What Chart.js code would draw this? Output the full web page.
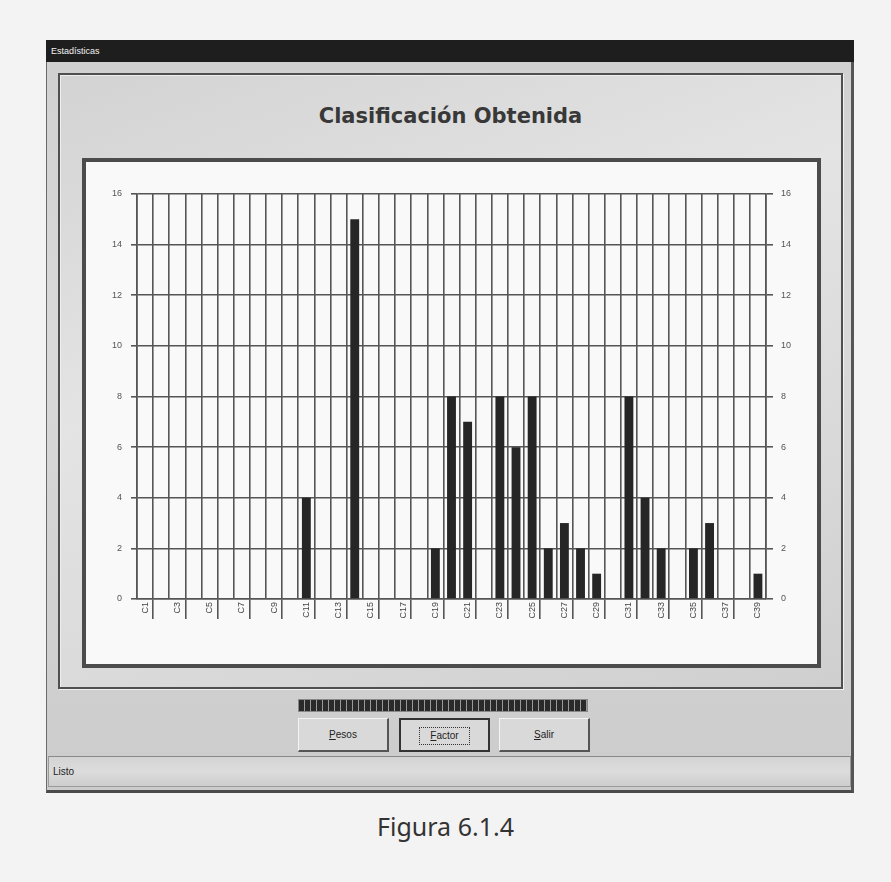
<!DOCTYPE html>
<html>
<head>
<meta charset="utf-8">
<script src="https://cdn.jsdelivr.net/npm/chart.js@4/dist/chart.umd.min.js"></script>
<style>
  html, body { margin: 0; padding: 0; }
  body {
    width: 891px; height: 882px; position: relative; overflow: hidden;
    background: #f3f3f3;
    font-family: "Liberation Sans", Arial, sans-serif;
  }
  .abs { position: absolute; box-sizing: border-box; }
  #win {
    left: 46px; top: 40px; width: 808px; height: 753px;
    background: linear-gradient(180deg, #d0d0d0 0%, #d9d9d9 40%, #cccccc 100%);
    border: 1px solid #6a6a6a; border-right: 3px solid #555; border-bottom: 3px solid #4a4a4a;
  }
  #titlebar {
    left: 46px; top: 40px; width: 808px; height: 22px;
    background: #1e1e1e; color: #f2f2f2;
    font-size: 9px; line-height: 22px; padding-left: 5px;
  }
  #panel {
    left: 58px; top: 73px; width: 785px; height: 616px;
    border: 2px solid #4f4f4f;
    box-shadow: inset 1px 1px 0 #eee, 1px 1px 0 #f0f0f0;
    background: linear-gradient(160deg, #d3d3d3 0%, #e4e4e4 40%, #d8d8d8 75%, #cfcfcf 100%);
  }
  #heading {
    left: 58px; top: 104px; width: 785px; text-align: center;
    font-family: "DejaVu Sans", Verdana, sans-serif; font-weight: bold;
    font-size: 21px; color: #383838;
  }
  #box {
    left: 82px; top: 158px; width: 739px; height: 510px;
    border: 4px solid #4c4c4c; background: #f9f9f9;
  }
  #chartWrap { left: 86px; top: 162px; width: 731px; height: 502px; }
  #progress {
    left: 298px; top: 699px; width: 290px; height: 13px;
    border: 1px solid #888;
    background: repeating-linear-gradient(90deg, #2a2a2a 0px, #2a2a2a 5px, #9a9a9a 5px, #9a9a9a 6px);
  }
  .btn {
    top: 718px; width: 91px; height: 34px;
    background: #d9d9d9;
    border: 1px solid #f4f4f4; border-right: 2px solid #555; border-bottom: 2px solid #555;
    font-size: 10px; color: #222; text-align: center; line-height: 31px;
  }
  .btn u { text-decoration: underline; }
  #bFactor { border: 2px solid #333; }
  #bFactor span { display: inline-block; border: 1px dotted #333; padding: 0 10px; line-height: 16px; }
  #status {
    left: 48px; top: 756px; width: 803px; height: 31px;
    border: 1px solid #9a9a9a; border-top-color: #8a8a8a;
    background: linear-gradient(180deg, #d4d4d4, #dcdcdc 50%, #cdcdcd);
    font-size: 10px; color: #222; line-height: 29px; padding-left: 4px;
  }
  #caption {
    left: 0; top: 809px; width: 891px; text-align: center;
    font-family: "Noto Sans", sans-serif; font-size: 25px; color: #333;
  }
</style>
</head>
<body>
<div id="win" class="abs"></div>
<div id="titlebar" class="abs">Estadísticas</div>
<div id="panel" class="abs"></div>
<div id="heading" class="abs">Clasificación Obtenida</div>
<div id="box" class="abs"></div>
<div id="chartWrap" class="abs"><canvas id="chart"></canvas></div>
<div id="progress" class="abs"></div>
<div id="bPesos" class="abs btn" style="left:298px"><u>P</u>esos</div>
<div id="bFactor" class="abs btn" style="left:399px"><span><u>F</u>actor</span></div>
<div id="bSalir" class="abs btn" style="left:499px"><u>S</u>alir</div>
<div id="status" class="abs">Listo</div>
<div id="caption" class="abs">Figura 6.1.4</div>

<script>
// categories shown on the x axis (every other one gets a label)
const categories = [
  "C1", "C2", "C3", "C4", "C5", "C6", "C7", "C8", "C9", "C10",
  "C11", "C12", "C13", "C14", "C15", "C16", "C17", "C18", "C19", "C20",
  "C21", "C22", "C23", "C24", "C25", "C26", "C27", "C28", "C29", "C30",
  "C31", "C32", "C33", "C34", "C35", "C36", "C37", "C38", "C39",
];

// number of items assigned to each class
const counts = [
  0, 0, 0, 0, 0, 0, 0, 0, 0, 0,
  4, 0, 0, 15, 0, 0, 0, 0, 2, 8,
  7, 0, 8, 6, 8, 2, 3, 2, 1, 0,
  8, 4, 2, 0, 2, 3, 0, 0, 1,
];

const yMin = 0;
const yMax = 16;
const yStep = 2;

const gridColor = "#555555";
const tickFont = { family: "Liberation Sans", size: 9 };

new Chart(document.getElementById("chart"), {
  type: "bar",
  data: {
    labels: categories,
    datasets: [
      {
        label: "Clasificación",
        data: counts,
        backgroundColor: "#262626",
        borderWidth: 0,
        barPercentage: 0.55,
        categoryPercentage: 1,
      },
    ],
  },
  options: {
    responsive: true,
    maintainAspectRatio: false,
    animation: false,
    layout: { padding: { top: 32, left: 0, right: 0, bottom: 0 } },
    plugins: {
      legend: { display: false },
      tooltip: { enabled: false },
    },
    scales: {
      x: {
        offset: true,
        grid: {
          offset: true,
          color: gridColor,
          lineWidth: 1.6,
          tickLength: 20,
          tickColor: (ctx) => (ctx.index % 2 === 1 ? gridColor : "rgba(0,0,0,0)"),
        },
        border: { color: gridColor, width: 1.6 },
        ticks: {
          autoSkip: false,
          maxRotation: 90,
          minRotation: 90,
          padding: -17,
          color: "#444",
          font: tickFont,
          callback: (v, i) => (i % 2 === 0 ? categories[i] : ""),
        },
        afterFit: (s) => { s.height = 65; },
      },
      y: {
        position: "left",
        min: yMin,
        max: yMax,
        grid: { color: gridColor, lineWidth: 1.6, tickLength: 6 },
        border: { color: gridColor, width: 1.6 },
        ticks: { stepSize: yStep, padding: 9, color: "#555", font: tickFont },
        afterFit: (s) => { s.width = 51; },
      },
      y2: {
        position: "right",
        min: yMin,
        max: yMax,
        grid: { drawOnChartArea: false, color: gridColor, lineWidth: 1.6, tickLength: 7 },
        border: { color: gridColor, width: 1.6 },
        ticks: { stepSize: yStep, padding: 8, color: "#555", font: tickFont },
        afterFit: (s) => { s.width = 51; },
      },
    },
  },
});
</script>
</body>
</html>
